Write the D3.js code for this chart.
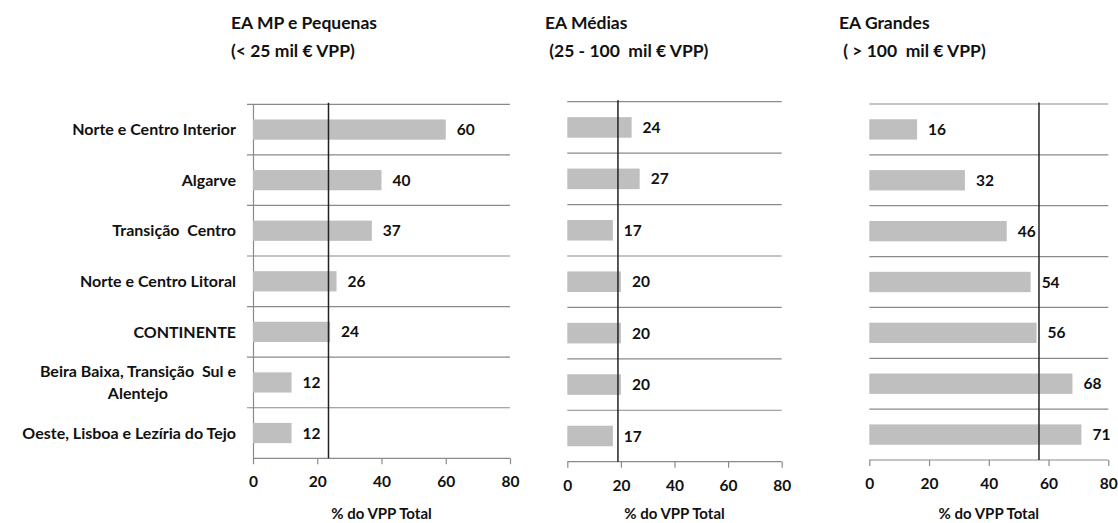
<!DOCTYPE html>
<html>
<head>
<meta charset="utf-8">
<script src="https://cdn.jsdelivr.net/npm/d3@7"></script>
<style>
  html, body { margin: 0; padding: 0; background: #fff; }
  svg { display: block; font-family: Lato, "Open Sans", sans-serif; }
  text { fill: #111; font-weight: bold; }
</style>
</head>
<body>
<svg id="chart" width="1118" height="523"></svg>
<script>
// ---- data ----
const categories = [
  "Norte e Centro Interior",
  "Algarve",
  "Transição  Centro",
  "Norte e Centro Litoral",
  "CONTINENTE",
  "Beira Baixa, Transição  Sul e|Alentejo",
  "Oeste, Lisboa e Lezíria do Tejo"
];
const panelTitles = ["EA MP e Pequenas", "EA Médias", "EA Grandes"];
const panelSubtitles = ["(< 25 mil € VPP)", " (25 - 100  mil € VPP)", " ( > 100  mil € VPP)"];
const valuesSmall  = [60, 40, 37, 26, 24, 12, 12];
const valuesMedium = [24, 27, 17, 20, 20, 20, 17];
const valuesLarge  = [16, 32, 46, 54, 56, 68, 71];
const referenceLines = [23.5, 18.9, 56.8];
const xTicks = [0, 20, 40, 60, 80];
const axisTitle = "% do VPP Total";

// ---- layout ----
const svg = d3.select("#chart");
const panels = [
  {values: valuesSmall,  x0: 253,   x1: 510,   y0: 104.3, y1: 458.3, tx: 231, yAxis: true},
  {values: valuesMedium, x0: 567.3, x1: 781.7, y0: 101.7, y1: 461.7, tx: 545, yAxis: false},
  {values: valuesLarge,  x0: 869.3, x1: 1108.3, y0: 104,  y1: 460,   tx: 839, yAxis: false}
];
const gridColor = "#8a8a8a";

panels.forEach((p, i) => {
  const x = d3.scaleLinear().domain([0, 80]).range([p.x0, p.x1]);
  const y = d3.scaleBand().domain(categories).range([p.y0, p.y1]).paddingInner(0.6).paddingOuter(0.3);
  const g = svg.append("g");

  // titles
  g.append("text").attr("x", p.tx).attr("y", 29).attr("font-size", 17.5).text(panelTitles[i]);
  g.append("text").attr("x", p.tx).attr("y", 57).attr("font-size", 17.5)
    .attr("xml:space", "preserve").style("white-space", "pre").text(panelSubtitles[i]);

  // band boundary grid lines
  const bounds = d3.range(categories.length).map(k => p.y0 + k * (p.y1 - p.y0) / categories.length);
  g.selectAll("line.grid").data(bounds).join("line")
    .attr("x1", p.yAxis ? p.x0 - 6 : p.x0).attr("x2", p.x1)
    .attr("y1", d => d).attr("y2", d => d)
    .attr("stroke", gridColor).attr("stroke-width", 1.2);

  // x axis
  const xa = g.append("g").attr("transform", `translate(0,${p.y1})`)
    .call(d3.axisBottom(x).tickValues(xTicks).tickSize(6).tickPadding(12));
  xa.select(".domain").attr("stroke", gridColor).attr("stroke-width", 1.2)
    .attr("d", `M${p.x0},0H${p.x1}`);
  xa.selectAll(".tick line").attr("stroke", gridColor).attr("stroke-width", 1.2);
  xa.selectAll(".tick text").attr("font-size", 15.5).attr("font-family", "Lato, sans-serif")
    .attr("font-weight", "bold").attr("fill", "#111");
  if (p.yAxis) {
    xa.selectAll(".tick").filter(d => d === 0).select("line").attr("y1", -(p.y1 - p.y0));
  }

  g.append("text").attr("x", (p.x0 + p.x1) / 2).attr("y", 519)
    .attr("text-anchor", "middle").attr("font-size", 15).text(axisTitle);

  // bars
  g.selectAll("rect.bar").data(p.values).join("rect")
    .attr("x", x(0)).attr("y", (d, k) => y(categories[k]))
    .attr("width", d => x(d) - x(0)).attr("height", y.bandwidth())
    .attr("fill", "#bfbfbf");

  // value labels
  g.selectAll("text.val").data(p.values).join("text")
    .attr("x", d => x(d) + 11).attr("y", (d, k) => y(categories[k]) + y.bandwidth() / 2)
    .attr("dy", "0.36em").attr("font-size", 15.5).text(d => d);

  // reference line
  g.append("line")
    .attr("x1", x(referenceLines[i])).attr("x2", x(referenceLines[i]))
    .attr("y1", p.y0 - 1.5).attr("y2", p.y1)
    .attr("stroke", "#222").attr("stroke-width", 1.5);

  // category labels
  if (p.yAxis) {
    categories.forEach((c, k) => {
      const cy = y(c) + y.bandwidth() / 2;
      const parts = c.split("|");
      if (parts.length === 1) {
        g.append("text").attr("x", 236).attr("y", cy).attr("dy", "0.36em")
          .attr("text-anchor", "end").attr("font-size", 16).attr("xml:space", "preserve")
          .style("white-space", "pre").text(c);
      } else {
        const t1 = g.append("text").attr("x", 236).attr("y", cy - 11).attr("dy", "0.36em")
          .attr("text-anchor", "end").attr("font-size", 16).attr("xml:space", "preserve")
          .style("white-space", "pre").text(parts[0]);
        const w = t1.node().getComputedTextLength();
        g.append("text").attr("x", 236 - w / 2).attr("y", cy + 11).attr("dy", "0.36em")
          .attr("text-anchor", "middle").attr("font-size", 16).text(parts[1]);
      }
    });
  }
});
</script>
</body>
</html>
